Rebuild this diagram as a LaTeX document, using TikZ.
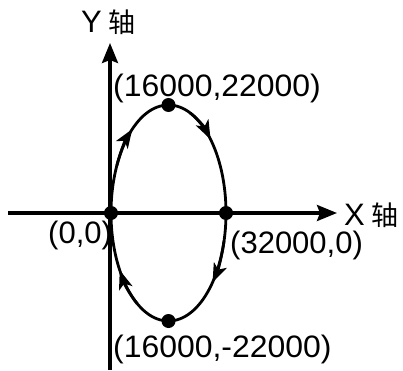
\documentclass[tikz,border=0pt]{standalone}
\usepackage{fontspec}
\setmainfont{Liberation Sans}
\newfontfamily\cjk{Noto Sans CJK SC}
\usetikzlibrary{arrows.meta}
\newcommand{\axischar}{{\cjk\fontsize{27}{32}\selectfont 轴}}
\begin{document}
\begin{tikzpicture}[x=1pt,y=1pt,
  lbl/.style={inner sep=0pt, anchor=base west, font=\fontsize{31}{36}\selectfont},
  axis/.style={line width=3.2pt, -{Stealth[length=20pt,width=16pt,inset=3pt]}},
  ell/.style={line width=2.8pt},
  dot/.style={circle, fill=black, inner sep=0pt, minimum size=14pt},
  dirarrow/.style={line width=2.8pt, -{Stealth[length=19pt,width=14pt,inset=5pt]}}]
\useasboundingbox (0,0) rectangle (403,370);
% axes
\coordinate (yb) at (110,0);
\coordinate (yt) at (110,327);
\coordinate (xl) at (8,157);
\coordinate (xr) at (337,157);
\draw[axis] (yb) -- (yt);
\draw[axis] (xl) -- (xr);
% ellipse
\coordinate (C) at (168.5,157);
\draw[ell] (C) ellipse [x radius=57.5, y radius=108];
% direction arrows (clockwise)
\draw[dirarrow] (C) ++(154:57.5 and 108) arc[start angle=154, end angle=129, x radius=57.5, y radius=108];
\draw[dirarrow] (C) ++(68:57.5 and 108) arc[start angle=68, end angle=43, x radius=57.5, y radius=108];
\draw[dirarrow] (C) ++(-15:57.5 and 108) arc[start angle=-15, end angle=-40, x radius=57.5, y radius=108];
\draw[dirarrow] (C) ++(-123:57.5 and 108) arc[start angle=-123, end angle=-148, x radius=57.5, y radius=108];
% dots
\node[dot] (O) at (111,157) {};
\node[dot] (R) at (226,157) {};
\node[dot] (T) at (168.5,265) {};
\node[dot] (B) at (168.5,49) {};
% labels
\node[lbl] (ylab) at (81,337) {Y\hspace{7pt}\axischar};
\node[lbl] (xlab) at (344,145) {X\hspace{7pt}\axischar};
\node[lbl] (tl) at (113,273) {\scalebox{1.03}[1]{(16000,22000)}};
\node[lbl] (bl) at (113,13) {\scalebox{1.03}[1]{(16000,-22000)}};
\node[lbl] (rl) at (230,117) {(32000,0)};
\node[lbl] (ol) at (48,127) {(0,0)};
\end{tikzpicture}
\end{document}
